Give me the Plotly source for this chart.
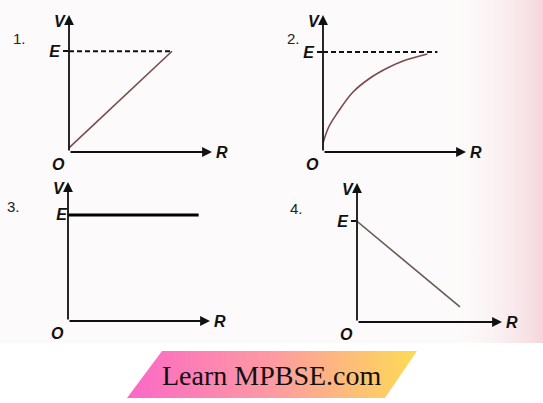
import plotly.graph_objects as go

W, H = 543, 403

# Values (E = 1, R axis runs 0..1 in each panel)
E = 1.0
P1_R = [0, 0.72]
P1_V = [0.04, 1.0]
P1_DASH_R = [0, 0.72]

P2_R = [0, 0.04, 0.10, 0.21, 0.33, 0.45, 0.56, 0.73]
P2_V = [0.09, 0.25, 0.39, 0.60, 0.74, 0.84, 0.91, 0.98]
P2_DASH_R = [0, 0.80]

P3_R = [0, 0.92]
P3_V = [1.0, 1.0]

P4_R = [0, 0.71]
P4_V = [1.0, 0.15]

V_MAX = [1.36, 1.37, 1.31, 1.38]
PANEL_NAMES = ["1.", "2.", "3.", "4."]
E_TICK = [True, True, False, True]

# panel frames in pixels: origin x, origin y, end of R axis, top of V axis
FRAMES = [(69, 152, 212, 15), (323, 152, 466, 15), (68, 321, 210, 182), (357, 322, 502, 183)]
NAME_POS = [(11, 28), (285, 28), (5, 207), (288, 208)]

BANNER_X = [162, 417, 385, 127, 162]
BANNER_Y = [351, 351, 398, 398, 351]
BANNER_TEXT = "Learn MPBSE.com"

LINE_COL = "#7a4a4c"
AX_FONT = dict(family="Liberation Sans", size=16, color="#111111")

fig = go.Figure()

# background layer on the page-sized axes (x, y)
fig.add_trace(go.Scatter(x=[0, W, W, 0, 0], y=[0, 0, 343, 343, 0], mode="lines",
                         line=dict(width=0), fill="toself", fillcolor="#fcfafa",
                         hoverinfo="skip", showlegend=False))
fig.add_trace(go.Scatter(x=[455, W, W, 455, 455], y=[0, 0, 343, 343, 0], mode="lines",
                         line=dict(width=0), fill="toself",
                         fillgradient=dict(type="horizontal",
                                           colorscale=[[0, "rgba(250,240,240,0)"],
                                                       [1, "rgba(238,185,195,0.55)"]]),
                         hoverinfo="skip", showlegend=False))
fig.add_trace(go.Scatter(x=BANNER_X, y=BANNER_Y, mode="lines", line=dict(width=0),
                         fill="toself",
                         fillgradient=dict(type="horizontal",
                                           colorscale=[[0, "#fb68c6"], [0.5, "#fd9aa2"],
                                                       [1, "#fddb55"]]),
                         hoverinfo="skip", showlegend=False))
fig.add_annotation(x=272, y=375, xref="x", yref="y",
                   text=BANNER_TEXT, showarrow=False,
                   font=dict(family="Liberation Serif", size=28, color="#111111"))

series = [
    (P1_R, P1_V, dict(color=LINE_COL, width=1.6), "linear"),
    (P2_R, P2_V, dict(color=LINE_COL, width=1.6), "spline"),
    (P3_R, P3_V, dict(color="#000000", width=3), "linear"),
    (P4_R, P4_V, dict(color="#6e5656", width=1.6), "linear"),
]
dashes = [P1_DASH_R, P2_DASH_R, None, None]

layout_axes = {}
for i, (ox, oy, xe, top) in enumerate(FRAMES):
    k = i + 2
    xa, ya = f"x{k}", f"y{k}"
    layout_axes[f"xaxis{k}"] = dict(domain=[ox / W, xe / W], range=[0, 1], visible=False,
                                    fixedrange=True, anchor=ya)
    layout_axes[f"yaxis{k}"] = dict(domain=[1 - oy / H, 1 - top / H], range=[0, V_MAX[i]],
                                    anchor=xa, fixedrange=True, showgrid=False,
                                    zeroline=False, showline=False,
                                    tickvals=[E], ticktext=["<b><i>E</i></b>"],
                                    ticks="outside" if E_TICK[i] else "",
                                    ticklen=5, tickwidth=1.5, tickcolor="#111111",
                                    tickfont=AX_FONT)
    if dashes[i] is not None:
        fig.add_trace(go.Scatter(x=dashes[i], y=[E, E], mode="lines", xaxis=xa, yaxis=ya,
                                 line=dict(color="#111111", width=1.8, dash="5px,3px"),
                                 hoverinfo="skip", showlegend=False))
    r, v, ln, shape = series[i]
    ln = dict(ln, shape=shape)
    fig.add_trace(go.Scatter(x=r, y=v, mode="lines", xaxis=xa, yaxis=ya, line=ln,
                             hoverinfo="skip", showlegend=False))

    # axes with arrowheads
    for tip, tail in [((1, 0), (0, 0)), ((0, V_MAX[i]), (0, 0))]:
        fig.add_annotation(x=tip[0], y=tip[1], ax=tail[0], ay=tail[1], xref=xa, yref=ya,
                           axref=xa, ayref=ya, showarrow=True, arrowhead=2,
                           arrowsize=1.1, arrowwidth=1.8, arrowcolor="#111111", text="")
    fig.add_annotation(x=0, y=V_MAX[i], xref=xa, yref=ya, text="<b><i>V</i></b>",
                       showarrow=False, xanchor="right", yanchor="top", xshift=-1,
                       yshift=4, font=AX_FONT)
    fig.add_annotation(x=1, y=0, xref=xa, yref=ya, text="<b><i>R</i></b>",
                       showarrow=False, xanchor="left", yanchor="middle", xshift=2,
                       font=AX_FONT)
    fig.add_annotation(x=0, y=0, xref=xa, yref=ya, text="<b><i>O</i></b>",
                       showarrow=False, xanchor="right", yanchor="top", xshift=-2,
                       yshift=-2, font=AX_FONT)
    nx, ny = NAME_POS[i]
    fig.add_annotation(x=nx / W, y=1 - ny / H, xref="paper", yref="paper",
                       text=PANEL_NAMES[i], showarrow=False, xanchor="left",
                       font=dict(family="Liberation Sans", size=15, color="#222222"))

fig.update_layout(
    width=W, height=H, margin=dict(l=0, r=0, t=0, b=0),
    paper_bgcolor="white", plot_bgcolor="rgba(0,0,0,0)", showlegend=False,
    xaxis=dict(domain=[0, 1], range=[0, W], visible=False, fixedrange=True),
    yaxis=dict(domain=[0, 1], range=[H, 0], visible=False, fixedrange=True),
    **layout_axes,
)

fig.write_html("out.html", config={"displayModeBar": False},
               post_script="document.body.style.margin='0';")
